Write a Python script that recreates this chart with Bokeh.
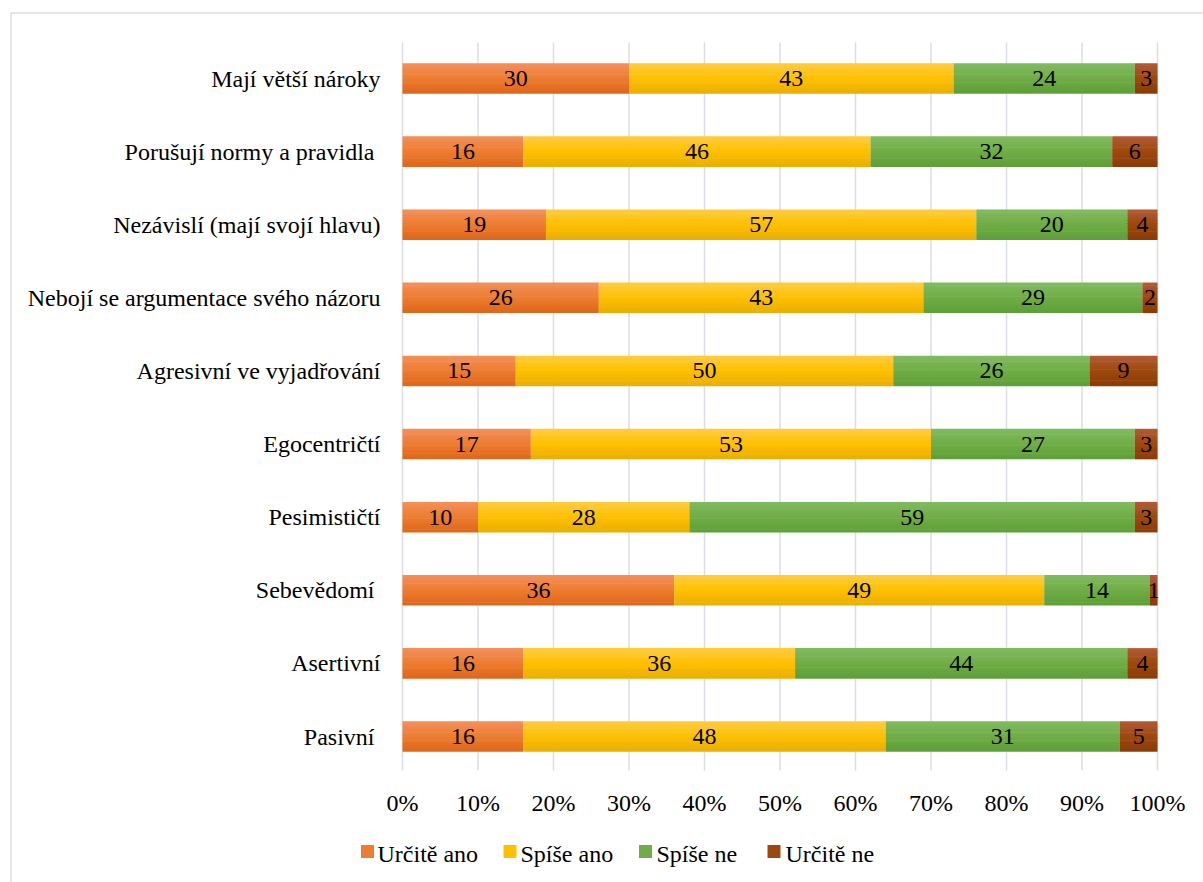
import numpy as np
from bokeh.plotting import figure
from bokeh.models import ColumnDataSource, Range1d
from bokeh.transform import dodge
from bokeh.core.properties import value
from bokeh.embed import file_html
from bokeh.resources import INLINE

# ---------------- data (top to bottom as shown) ----------------
categories = [
    "Mají větší nároky",
    "Porušují normy a pravidla ",
    "Nezávislí (mají svojí hlavu)",
    "Nebojí se argumentace svého názoru",
    "Agresivní ve vyjadřování",
    "Egocentričtí",
    "Pesimističtí",
    "Sebevědomí ",
    "Asertivní",
    "Pasivní ",
]
urcite_ano = [30, 16, 19, 26, 15, 17, 10, 36, 16, 16]
spise_ano = [43, 46, 57, 43, 50, 53, 28, 49, 36, 48]
spise_ne = [24, 32, 20, 29, 26, 27, 59, 14, 44, 31]
urcite_ne = [3, 6, 4, 2, 9, 3, 3, 1, 4, 5]
series_names = ["Určitě ano", "Spíše ano", "Spíše ne", "Určitě ne"]
x_ticks = [0, 0.1, 0.2, 0.3, 0.4, 0.5, 0.6, 0.7, 0.8, 0.9, 1.0]
x_tick_labels = [f"{round(t * 100)}%" for t in x_ticks]

series = [urcite_ano, spise_ano, spise_ne, urcite_ne]
# (top, mid, bottom) colours for the Excel-like vertical gradient
grad = [
    ("#F28E57", "#ED7D31", "#E0681B"),
    ("#FFCB3D", "#FFC000", "#EBB000"),
    ("#80BA5E", "#70AD47", "#60A038"),
    ("#B05A33", "#9E480E", "#8E3C06"),
]

FONT = "Liberation Serif"
FS = "24px"
GRID = "#DADEE6"


def hex2rgb(h):
    h = h.lstrip("#")
    return np.array([int(h[i:i + 2], 16) for i in (0, 2, 4)], dtype=float)


def rgb2hex(c):
    return "#%02x%02x%02x" % tuple(int(round(v)) for v in c)


def gradient(top, mid, bot, n):
    t, m, b = hex2rgb(top), hex2rgb(mid), hex2rgb(bot)
    out = []
    for k in range(n):
        f = k / (n - 1)
        if f <= 0.5:
            c = t + (m - t) * (f / 0.5)
        else:
            c = m + (b - m) * ((f - 0.5) / 0.5)
        out.append(rgb2hex(c))
    return out


n_cat = len(categories)
ypos = [n_cat - 1 - i for i in range(n_cat)]  # first category on top

totals = [sum(v) for v in zip(*series)]
left = np.zeros(n_cat)
data = {"cat": categories, "y": ypos}
for i, s in enumerate(series):
    frac = np.array(s, dtype=float) / np.array(totals)
    data[f"l{i}"] = left.copy()
    data[f"r{i}"] = left + frac
    data[f"m{i}"] = left + frac / 2
    data[f"t{i}"] = [str(v) for v in s]
    left = left + frac
source = ColumnDataSource(data)

# ---------------- layout geometry (pixels) ----------------
W, H = 1203, 882
PX0, PX1 = 402, 1157            # pixel position of 0 % and 100 %
ROW_TOP, ROW_BOT = 78, 736      # pixel centres of first and last rows
sx = (PX1 - PX0)                # px per x unit
sy = (ROW_BOT - ROW_TOP) / (n_cat - 1)  # px per y unit


def xs(px):
    return (px - PX0) / sx


def ys(py):
    return (n_cat - 1) - (py - ROW_TOP) / sy


p = figure(
    width=W, height=H,
    x_range=Range1d(xs(0), xs(W)), y_range=Range1d(ys(H), ys(0)),
    x_axis_type=None, y_axis_type=None,
    output_backend="svg", toolbar_location=None,
    min_border_left=0, min_border_top=0, min_border_right=0, min_border_bottom=0,
)
p.outline_line_color = None
p.background_fill_color = "white"
p.border_fill_color = "white"
p.xgrid.visible = False
p.ygrid.visible = False

# chart-area border (top and left edges visible in the reference)
p.segment(x0=[xs(10.5), xs(10.5)], y0=[ys(12.5), ys(12.5)],
          x1=[xs(W), xs(10.5)], y1=[ys(12.5), ys(H)],
          line_color=GRID, line_width=1.5)

# vertical gridlines
p.segment(x0=x_ticks, x1=x_ticks, y0=[ys(770)] * len(x_ticks), y1=[ys(42)] * len(x_ticks),
          line_color=GRID, line_width=1.5)

# stacked bars with vertical gradient
bar_h = 30 / sy
n_strips = 11
sh = bar_h / n_strips
for i in range(4):
    cols = gradient(*grad[i], n_strips)
    for k in range(n_strips):
        off = bar_h / 2 - sh / 2 - k * sh
        p.hbar(y=dodge("y", off), left=f"l{i}", right=f"r{i}",
               height=sh * 1.2, source=source,
               fill_color=cols[k], line_color=None)

# data labels
for i in range(4):
    p.text(x=f"m{i}", y="y", text=f"t{i}", source=source,
           text_align="center", text_baseline="middle",
           text_font=value(FONT), text_font_size=FS, text_color="#000000")

# category labels (left)
p.text(x=[xs(380)] * n_cat, y=ypos, text=categories,
       text_align="right", text_baseline="middle",
       text_font=value(FONT), text_font_size=FS, text_color="#000000")

# percentage tick labels (bottom)
p.text(x=x_ticks, y=[ys(802)] * len(x_ticks), text=x_tick_labels,
       text_align="center", text_baseline="middle",
       text_font=value(FONT), text_font_size=FS, text_color="#000000")

# legend (swatches + labels) below the axis
swatch_px = [367, 509.5, 645, 773.5]
label_px = [377, 520, 656, 785]
p.scatter(x=[xs(v) for v in swatch_px], y=[ys(851)] * 4, marker="square", size=13,
          fill_color=[g[1] for g in grad], line_color=None)
p.text(x=[xs(v) for v in label_px], y=[ys(853)] * 4, text=series_names,
       text_align="left", text_baseline="middle",
       text_font=value(FONT), text_font_size=FS, text_color="#000000")

open("out.html", "w").write(file_html(p, INLINE))
